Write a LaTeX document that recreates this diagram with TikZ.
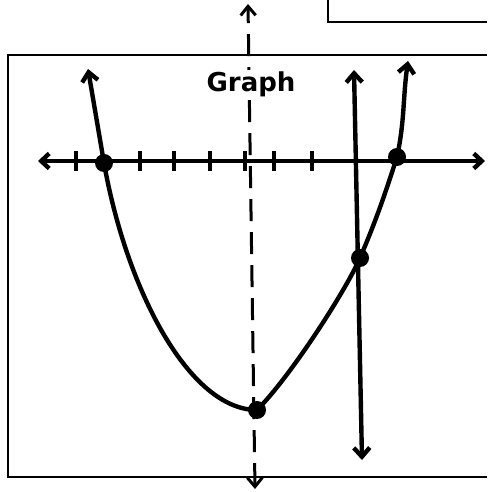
\documentclass[tikz,border=0pt]{standalone}
\usepackage{fontspec}
\setsansfont{DejaVu Sans}
\usetikzlibrary{arrows.meta, positioning, calc}

\begin{document}
\begin{tikzpicture}[x=1pt, y=1pt,
    frame/.style={line width=1.8pt},
    axis/.style={line width=4.4pt, {Straight Barb[length=8pt,width=15pt]}-{Straight Barb[length=8pt,width=15pt]}},
    curve/.style={line width=4.4pt, line join=round, line cap=round,
        {Straight Barb[length=9pt,width=16pt]}-{Straight Barb[length=9pt,width=16pt]}},
    sym/.style={line width=3pt, dash pattern=on 22pt off 11pt,
        {Straight Barb[length=9pt,width=15pt]}-{Straight Barb[length=9pt,width=15pt]}},
    tick/.style={line width=3.4pt},
    dot/.style={circle, fill, minimum size=18pt, inner sep=0pt},
    title/.style={font=\sffamily\bfseries\fontsize{26}{26}\selectfont, fill=white, inner sep=2pt}]
  \useasboundingbox (0,0) rectangle (487,492);

  \draw[frame] (487,437) -- (8,437) -- (8,15) -- (487,15);
  \draw[frame] (328,492) -- (328,470) -- (487,470);

  \coordinate (xl) at (38,331);
  \coordinate (xr) at (485,331);
  \draw[axis] (xl) -- (xr);
  \foreach \t in {76,140,174,210,245,274,312}
    \draw[tick] (\t,321) -- (\t,341);

  \coordinate (dbot) at (255,3);
  \coordinate (dtop) at (248,488);
  \draw[sym] (dbot) -- (dtop);
  \node[title, anchor=base] (ttl) at (251,400) {Graph};

  \coordinate (ltip) at (88,423);
  \coordinate (lroot) at (104,329);
  \coordinate (vtx) at (257,82);
  \coordinate (isect) at (360,234);
  \coordinate (rroot) at (397,335);
  \coordinate (rtip) at (408,431);
  \draw[curve] (ltip) -- (lroot) .. controls (127,200) and (190,82) .. (vtx)
    .. controls (290,115) and (345,200) .. (isect)
    to[out=67, in=-108] (rroot) to[out=78, in=-98] (rtip);

  \coordinate (vtop) at (354,422);
  \coordinate (vbot) at (362,32);
  \draw[curve] (vbot) -- (vtop);

  \node[dot] (p1) at (lroot) {};
  \node[dot] (p2) at (rroot) {};
  \node[dot] (p3) at (isect) {};
  \node[dot] (p4) at (vtx) {};
\end{tikzpicture}
\end{document}
